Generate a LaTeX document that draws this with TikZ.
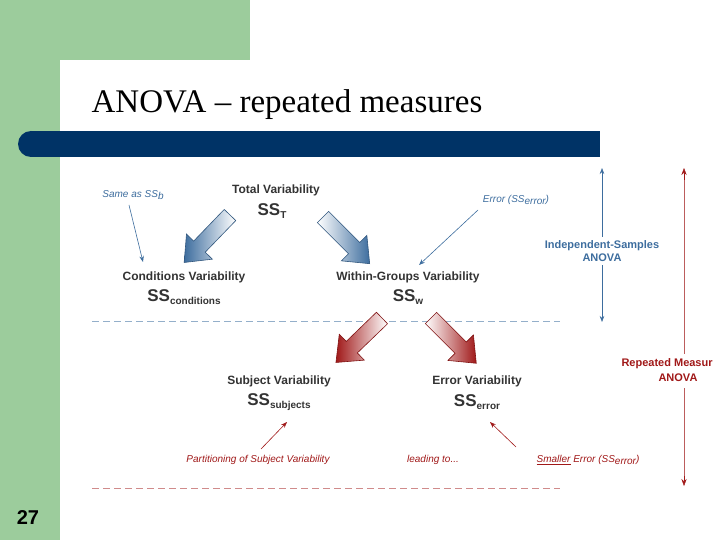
\documentclass[tikz,border=0pt]{standalone}
\usepackage{fontspec}
\setmainfont{Liberation Serif}
\newfontfamily\sansf{Liberation Sans}
\usetikzlibrary{arrows.meta}
\definecolor{bgreen}{HTML}{9CCC9C}
\definecolor{dblue}{HTML}{003366}
\definecolor{ablue}{HTML}{3D6D9E}
\definecolor{ared}{HTML}{A01818}
\definecolor{tgray}{HTML}{333333}
\newcommand\fatarr[5]{%
 \begin{scope}[shift={(#3)},rotate=#4]
  \shade[#1,draw=#2!80!black,line width=0.6pt]
   (0,-8)--(#5-22,-8)--(#5-22,-18)--(#5,0)--(#5-22,18)--(#5-22,8)--(0,8)--cycle;
 \end{scope}}
\newcommand\sub[1]{\raisebox{-0.35ex}{\fontsize{10}{11}\selectfont #1}}
\begin{document}
\begin{tikzpicture}[x=1pt,y=-1pt,
 lab/.style={font=\sansf\bfseries\fontsize{12}{14}\selectfont,text=tgray},
 ss/.style={font=\sansf\bfseries\fontsize{17}{19}\selectfont,text=tgray},
 hb/.style={font=\sansf\itshape\fontsize{10}{12}\selectfont,text=ablue},
 hr/.style={font=\sansf\itshape\fontsize{10}{12}\selectfont,text=ared},
 sa/.style={-{Stealth[length=6pt]},line width=0.6pt}]
\useasboundingbox (0,0) rectangle (720,540);
\fill[bgreen] (0,0) rectangle (250,60);
\fill[bgreen] (0,0) rectangle (60,540);
\fill[white] (60,540) -- (60,90) arc[start angle=180,end angle=90,radius=30] -- (250,60) -- (250,540) -- cycle;
\fill[dblue] (31,131) rectangle (600,157);
\fill[dblue] (31,144) circle[radius=13];
\node (title) at (287,105) {\fontsize{33}{36}\selectfont ANOVA -- repeated measures};
\node (num) at (28,518) {\sansf\bfseries\fontsize{20}{22}\selectfont 27};
% texts
\node[hb] (same) at (133,195) {Same as SS\sub{b}};
\node[lab] (tot) at (276,190) {Total Variability};
\node[ss] (sst) at (272,211) {SS\sub{T}};
\node[hb] (err1) at (516,200) {Error (SS\sub{error})};
\node[lab,text=ablue,align=center,font=\sansf\bfseries\fontsize{11}{13}\selectfont] (ind) at (602,251) {Independent-Samples\\ANOVA};
\node[lab] (cond) at (184,277) {Conditions Variability};
\node[ss] (ssc) at (184,297) {SS\sub{conditions}};
\node[lab] (with) at (408,277) {Within-Groups Variability};
\node[ss] (ssw) at (408,297) {SS\sub{w}};
\node[lab] (subj) at (279,381) {Subject Variability};
\node[ss] (sss) at (279,402) {SS\sub{subjects}};
\node[lab] (errv) at (477,381) {Error Variability};
\node[ss] (sse) at (477,402) {SS\sub{error}};
\node[hr] (part) at (258,460) {Partitioning of Subject Variability};
\node[hr] (lead) at (433,460) {leading to...};
\node[hr] (small) at (588,460) {\underline{Smaller} Error (SS\sub{error})};
\node[lab,text=ared,font=\sansf\bfseries\fontsize{11}{13}\selectfont,anchor=west] (rep) at (618,364) {Repeated Measur};
\node[lab,text=ared,font=\sansf\bfseries\fontsize{11}{13}\selectfont] (repa) at (678,378) {ANOVA};
% dashed lines
\draw[ablue!55,dash pattern=on 7pt off 4pt,line width=1pt] (92,321) -- (560,321);
\draw[ared!50,dash pattern=on 7pt off 4pt,line width=1pt] (92,488) -- (560,488);
% vertical arrows
\coordinate (bt) at (602,168); \coordinate (bb) at (602,322);
\draw[ablue,sa] (ind.north) -- (bt);
\draw[ablue,sa] (ind.south) -- (bb);
\coordinate (rt) at (684,168); \coordinate (rb) at (684,486);
\draw[ared!70!white,line width=1pt] (684,178) -- (684,354);
\draw[ared,-{Stealth[length=7pt]}] (684,180) -- (rt);
\draw[ared!70!white,line width=1pt] (684,388) -- (684,478);
\draw[ared,-{Stealth[length=7pt]}] (684,476) -- (rb);
% small annotation arrows
\coordinate (a1) at (143,262); \draw[ablue,sa] (same.south) ++(-4,2) -- (a1);
\coordinate (a2) at (419,265); \draw[ablue,sa] (478,210) -- (a2);
\coordinate (a3) at (287,422); \draw[ared,sa] (261,449) -- (a3);
\coordinate (a4) at (490,422); \draw[ared,sa] (516,447) -- (a4);
% fat arrows
\fatarr{left color=ablue,right color=white}{ablue}{230,215}{226}{66}
\fatarr{left color=white,right color=ablue}{ablue}{323,217}{-45}{66}
\fatarr{left color=ared,right color=white}{ared}{382,318}{224}{64}
\fatarr{left color=white,right color=ared}{ared}{431,318}{-45}{64}
\end{tikzpicture}
\end{document}
